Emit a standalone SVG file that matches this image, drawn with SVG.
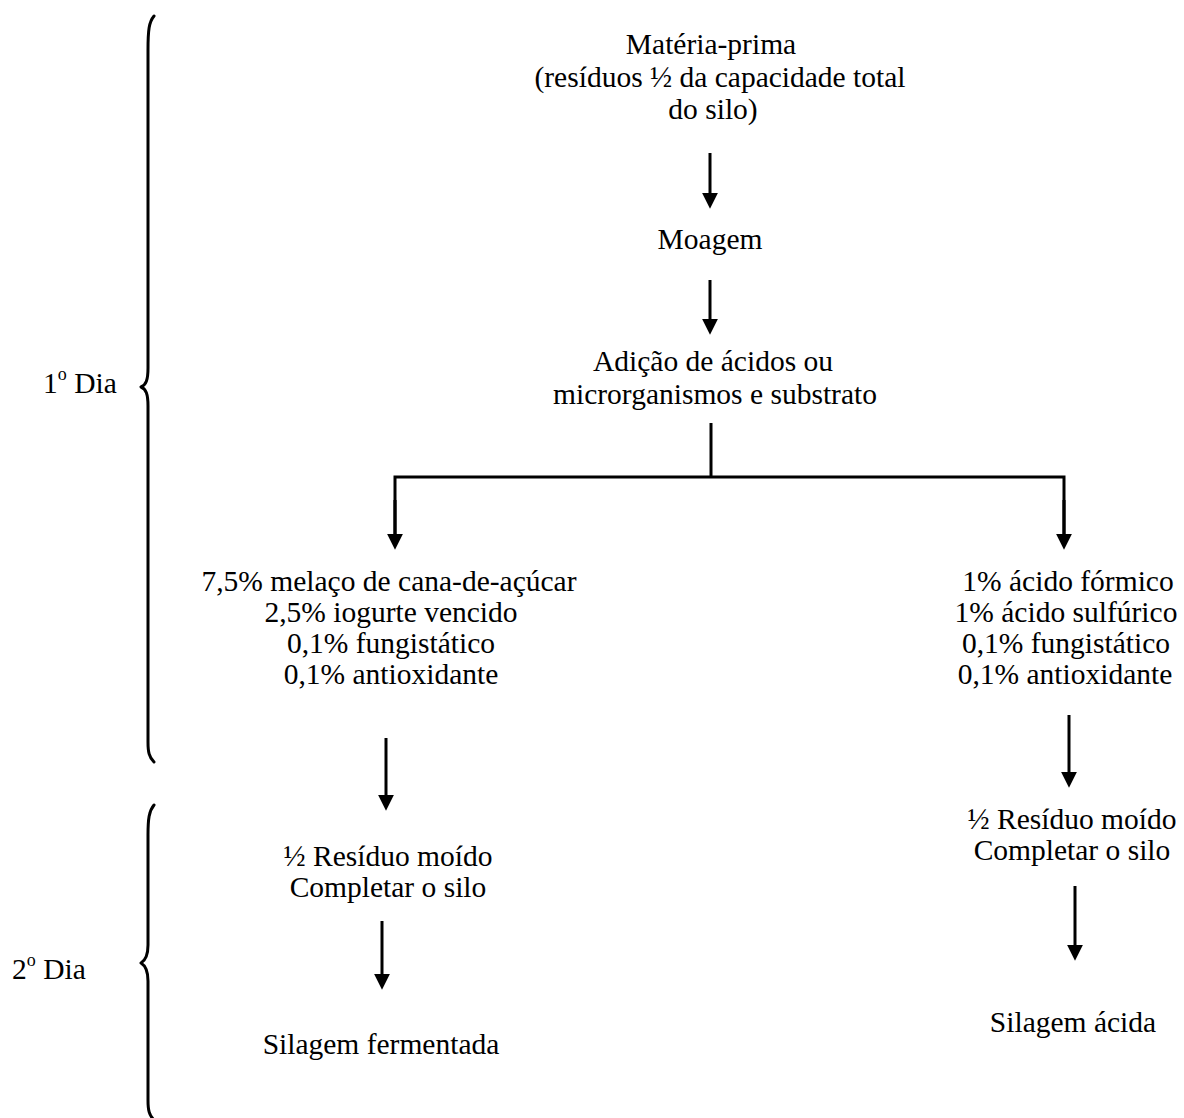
<svg xmlns="http://www.w3.org/2000/svg" width="1184" height="1118" viewBox="0 0 1184 1118">
<style>
  text { font-family: "Liberation Serif", "Times New Roman", serif; font-size: 29.5px; fill: #000; text-anchor: middle; }
  .lbl { text-anchor: start; }
  .brace { fill: none; stroke: #000; stroke-width: 3; stroke-linejoin: round; stroke-linecap: round; }
  .conn { fill: none; stroke: #000; stroke-width: 3; }
  .arr { fill: none; stroke: #000; stroke-width: 3; marker-end: url(#ah); }
</style>
<defs>
  <marker id="ah" markerUnits="userSpaceOnUse" markerWidth="16" markerHeight="16" viewBox="0 0 15 15" refX="4" refY="7.5" orient="auto">
    <path d="M0,0 L15,7.5 L0,15 z" fill="#000"/>
  </marker>
</defs>
<rect width="1184" height="1118" fill="#fff"/>

<g id="brace-dia1">
  <path class="brace" d="M154,16 C149,22 148,30 148,50 L148,368 C148,380 146,385 141,387 C146,389 148,394 148,406 L148,742 C148,752 149,757 154,762"/>
  <text class="lbl" x="43" y="393">1<tspan font-size="18" dy="-13">o</tspan><tspan dy="13"> Dia</tspan></text>
</g>
<g id="brace-dia2">
  <path class="brace" d="M154,805 C149,811 148,819 148,835 L148,945 C148,955 146,960 141,963 C146,966 148,971 148,981 L148,1100 C148,1110 149,1115 154,1120"/>
  <text class="lbl" x="12" y="979">2<tspan font-size="18" dy="-13">o</tspan><tspan dy="13"> Dia</tspan></text>
</g>

<g id="node-materia-prima">
  <text x="711" y="54">Matéria-prima</text>
  <text x="720" y="87">(resíduos ½ da capacidade total</text>
  <text x="713" y="119">do silo)</text>
</g>
<g id="node-moagem">
  <text x="710" y="249">Moagem</text>
</g>
<g id="node-adicao">
  <text x="713" y="371">Adição de ácidos ou</text>
  <text x="715" y="404">microrganismos e substrato</text>
</g>
<g id="node-fermentada-aditivos">
  <text x="389" y="591">7,5% melaço de cana-de-açúcar</text>
  <text x="391" y="622">2,5% iogurte vencido</text>
  <text x="391" y="653">0,1% fungistático</text>
  <text x="391" y="684">0,1% antioxidante</text>
</g>
<g id="node-acida-aditivos">
  <text x="1068" y="591">1% ácido fórmico</text>
  <text x="1066" y="622">1% ácido sulfúrico</text>
  <text x="1066" y="653">0,1% fungistático</text>
  <text x="1065" y="684">0,1% antioxidante</text>
</g>
<g id="node-residuo-esq">
  <text x="388" y="866">½ Resíduo moído</text>
  <text x="388" y="897">Completar o silo</text>
</g>
<g id="node-residuo-dir">
  <text x="1072" y="829">½ Resíduo moído</text>
  <text x="1072" y="860">Completar o silo</text>
</g>
<g id="node-silagem-fermentada">
  <text x="381" y="1054">Silagem fermentada</text>
</g>
<g id="node-silagem-acida">
  <text x="1073" y="1032">Silagem ácida</text>
</g>

<g id="connectors">
  <line class="arr" x1="710" y1="153" x2="710" y2="197"/>
  <line class="arr" x1="710" y1="280" x2="710" y2="323"/>
  <line class="conn" x1="711" y1="423" x2="711" y2="477"/>
  <polyline class="conn" points="395,538 395,477 1064,477 1064,538"/>
  <line class="arr" x1="395" y1="500" x2="395" y2="538"/>
  <line class="arr" x1="1064" y1="500" x2="1064" y2="538"/>
  <line class="arr" x1="386" y1="738" x2="386" y2="799"/>
  <line class="arr" x1="382" y1="921" x2="382" y2="978"/>
  <line class="arr" x1="1069" y1="715" x2="1069" y2="776"/>
  <line class="arr" x1="1075" y1="886" x2="1075" y2="949"/>
</g>
</svg>
